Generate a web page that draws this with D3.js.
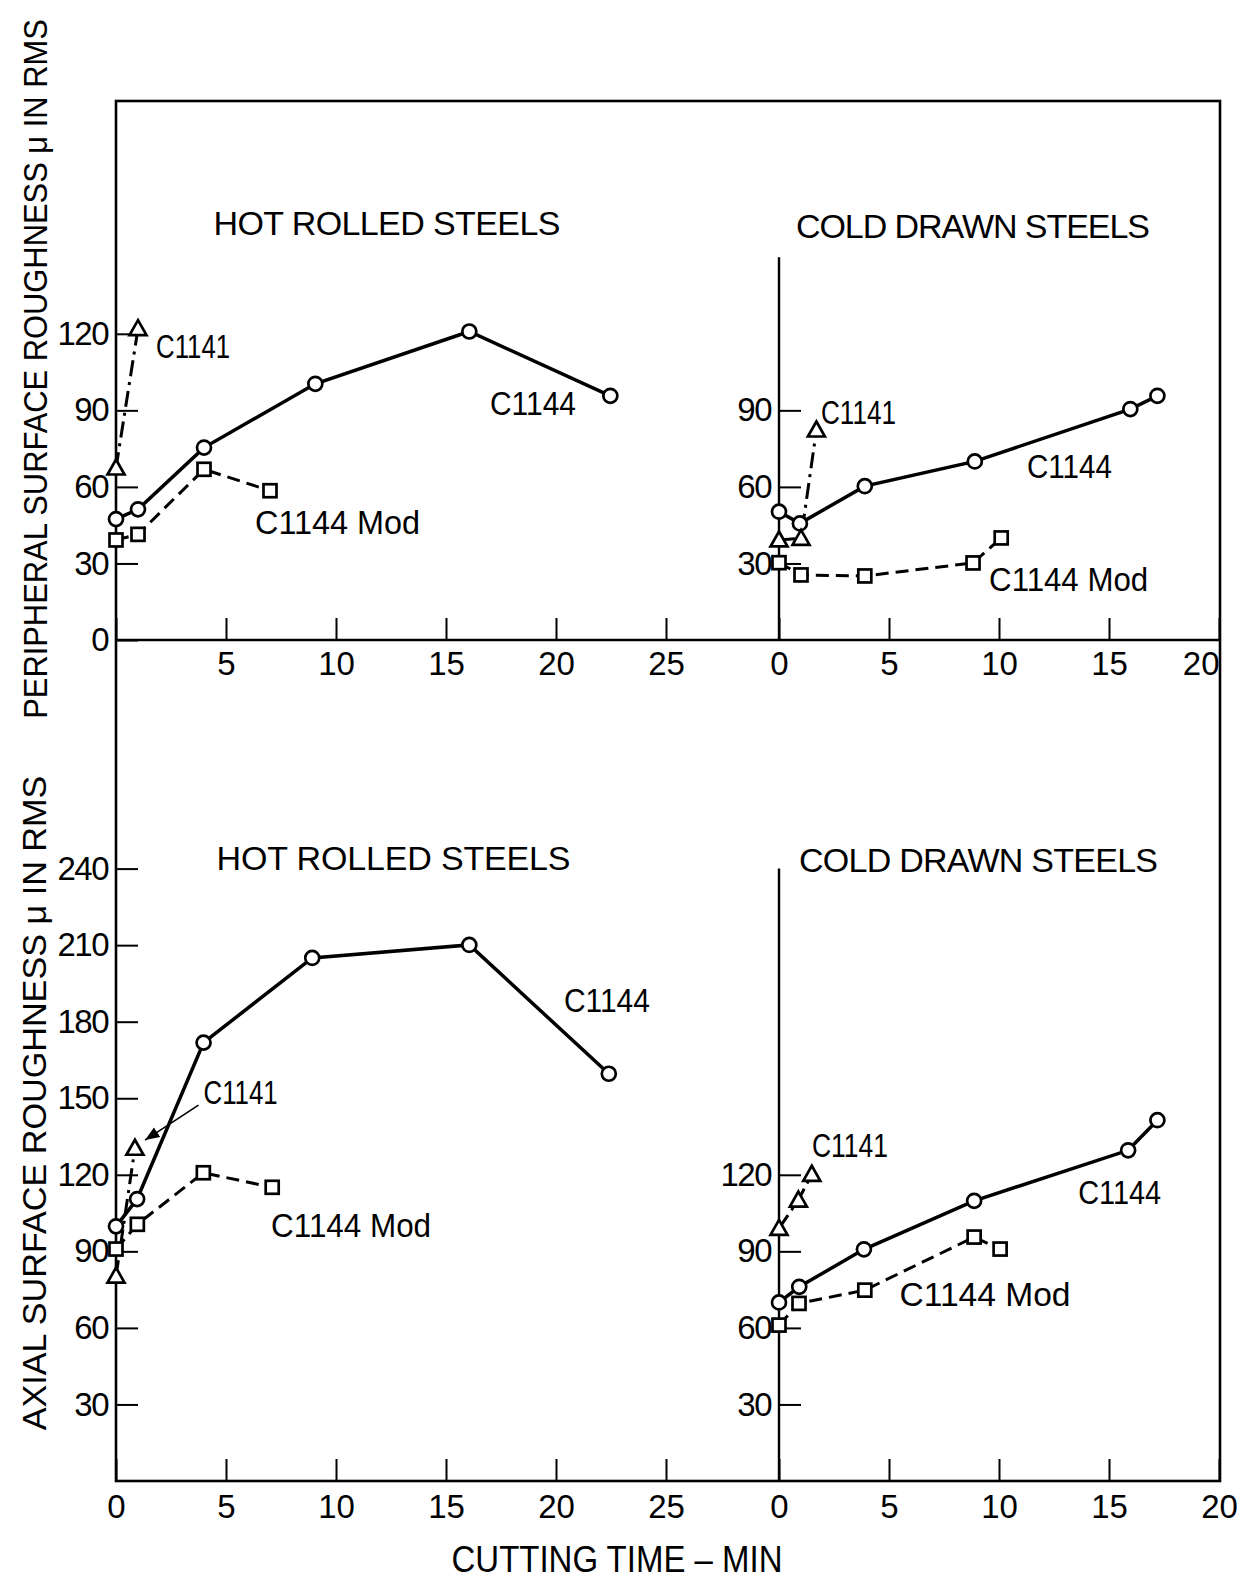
<!DOCTYPE html>
<html>
<head>
<meta charset="utf-8">
<script src="https://cdn.jsdelivr.net/npm/d3@7"></script>
<style>
  body { margin: 0; background: #fff; }
  svg text { font-family: "Liberation Sans", Arial, sans-serif; fill: #000; }
</style>
</head>
<body>
<svg width="1245" height="1579"></svg>
<script>
// ---- data (cutting time in min, roughness in micro-inch RMS) ----
const hotXTicks = [0, 5, 10, 15, 20, 25];
const coldXTicks = [0, 5, 10, 15, 20];
const periHotYTicks = [0, 30, 60, 90, 120];
const periColdYTicks = [30, 60, 90];
const axialHotYTicks = [30, 60, 90, 120, 150, 180, 210, 240];
const axialColdYTicks = [30, 60, 90, 120];

const periHotC1144 = [[0, 47.4], [1, 51.2], [4, 75.4], [9.06, 100.4], [16.06, 120.9], [22.47, 95.7]];
const periHotMod = [[0, 39.2], [1, 41.4], [4, 66.9], [7, 58.5]];
const periHotC1141 = [[0, 67.4], [1, 122]];

const periColdC1144 = [[0, 50.3], [0.95, 45.7], [3.9, 60.3], [8.9, 70], [15.97, 90.5], [17.2, 95.7]];
const periColdMod = [[0, 30.3], [1, 25.5], [3.9, 25.1], [8.82, 30.2], [10.1, 40]];
const periColdC1141 = [[0, 39.2], [1, 39.8], [1.7, 82.3]];

const axialHotC1144 = [[0, 99.8], [0.96, 110.5], [3.98, 171.8], [8.92, 205], [16.06, 210.1], [22.4, 159.6]];
const axialHotMod = [[0, 90.9], [0.97, 100.6], [3.97, 120.8], [7.1, 115.1]];
const axialHotC1141 = [[0, 80.3], [0.86, 130.4]];

const axialColdC1144 = [[0, 70], [0.92, 76.1], [3.86, 90.8], [8.87, 109.8], [15.87, 129.6], [17.2, 141.4]];
const axialColdMod = [[0, 61.1], [0.91, 69.6], [3.9, 74.8], [8.87, 95.6], [10.05, 90.9]];
const axialColdC1141 = [[0, 99], [0.88, 110.1], [1.49, 120.2]];

// ---- layout ----
const svg = d3.select("svg");
const xHot = d3.scaleLinear().domain([0, 25]).range([116, 666]);
const xCold = d3.scaleLinear().domain([0, 20]).range([779, 1219]);
const yPeri = d3.scaleLinear().domain([0, 120]).range([640, 333.8]);
const yAxial = d3.scaleLinear().domain([0, 240]).range([1481, 868.6]);

const frame = {left: 116, right: 1220, top: 101, mid: 640, bottom: 1481};

const panels = [
  {x: xHot, y: yPeri, series: [periHotC1144, periHotMod, periHotC1141],
   xTicks: hotXTicks, xLabels: hotXTicks.slice(1), yTicks: periHotYTicks, labelPad: 12},
  {x: xCold, y: yPeri, series: [periColdC1144, periColdMod, periColdC1141],
   xTicks: coldXTicks, xLabels: coldXTicks, yTicks: periColdYTicks, labelPad: 12, axisTop: 150},
  {x: xHot, y: yAxial, series: [axialHotC1144, axialHotMod, axialHotC1141],
   xTicks: hotXTicks, xLabels: hotXTicks, yTicks: axialHotYTicks, labelPad: 14},
  {x: xCold, y: yAxial, series: [axialColdC1144, axialColdMod, axialColdC1141],
   xTicks: coldXTicks, xLabels: coldXTicks, yTicks: axialColdYTicks, labelPad: 14, axisTop: 240}
];

const styles = [
  {dash: null, marker: "circle"},
  {dash: "13,7", marker: "square"},
  {dash: "16,6,3,6", marker: "triangle"}
];

// outer frame and the shared middle axis
const g = svg.append("g").attr("stroke", "#000").attr("fill", "none");
g.append("rect")
  .attr("x", frame.left).attr("y", frame.top)
  .attr("width", frame.right - frame.left).attr("height", frame.bottom - frame.top)
  .attr("stroke-width", 2.6);
g.append("line")
  .attr("x1", frame.left).attr("x2", frame.right)
  .attr("y1", frame.mid).attr("y2", frame.mid)
  .attr("stroke-width", 2.6);

panels.forEach((p, i) => {
  const pg = svg.append("g");
  const baseY = p.y.range()[0];

  // cold panels have their own vertical axis line
  if (p.axisTop) {
    pg.append("line")
      .attr("x1", p.x(0)).attr("x2", p.x(0))
      .attr("y1", baseY).attr("y2", p.y(p.axisTop))
      .attr("stroke", "#000").attr("stroke-width", 2.4);
  }

  // x ticks (pointing up) and labels
  const xg = pg.append("g").attr("transform", `translate(0,${baseY})`)
    .call(d3.axisBottom(p.x).tickValues(p.xTicks)
      .tickSizeInner(-22).tickSizeOuter(0).tickPadding(p.labelPad)
      .tickFormat(d => p.xLabels.includes(d) ? d : ""));
  xg.select(".domain").remove();
  xg.selectAll(".tick line").attr("stroke", "#000").attr("stroke-width", 2);
  xg.selectAll(".tick text").attr("font-size", 33).attr("font-family", null);
  if (i === 1) xg.selectAll(".tick text").filter(d => d === 20).attr("text-anchor", "end").attr("x", 0);

  // y ticks (pointing right) and labels
  const yg = pg.append("g").attr("transform", `translate(${p.x(0)},0)`)
    .call(d3.axisLeft(p.y).tickValues(p.yTicks)
      .tickSizeInner(-22).tickSizeOuter(0).tickPadding(8));
  yg.select(".domain").remove();
  yg.selectAll(".tick line").attr("stroke", "#000").attr("stroke-width", 2);
  yg.selectAll(".tick text").attr("font-size", 33).attr("font-family", null)
    .attr("letter-spacing", -1.5);

  // series lines then markers
  p.series.forEach((data, si) => {
    const st = styles[si];
    pg.append("path")
      .datum(data)
      .attr("d", d3.line().x(d => p.x(d[0])).y(d => p.y(d[1])))
      .attr("fill", "none").attr("stroke", "#000")
      .attr("stroke-width", si === 0 ? 3.5 : 3)
      .attr("stroke-dasharray", st.dash);
  });
  p.series.forEach((data, si) => {
    const st = styles[si];
    const m = pg.append("g").selectAll("g").data(data).join("g")
      .attr("transform", d => `translate(${p.x(d[0])},${p.y(d[1])})`);
    if (st.marker === "circle") {
      m.append("circle").attr("r", 7);
    } else if (st.marker === "square") {
      m.append("rect").attr("x", -6.5).attr("y", -6.5).attr("width", 13).attr("height", 13);
    } else {
      m.append("path").attr("d", "M0,-8.5L8.5,6.5L-8.5,6.5Z");
    }
    m.selectAll("*").attr("fill", "#fff").attr("stroke", "#000").attr("stroke-width", 2.7);
  });
});

// ---- annotations (positions in data units of each panel) ----
const seriesLabels = [
  {p: 0, text: "C1141", x: 1.82, y: 115.4, w: 74},
  {p: 0, text: "C1144", x: 17.0, y: 92.9, w: 86},
  {p: 0, text: "C1144 Mod", x: 6.32, y: 46.2, w: 165},
  {p: 1, text: "C1141", x: 1.91, y: 89.3, w: 75},
  {p: 1, text: "C1144", x: 11.27, y: 68.2, w: 85},
  {p: 1, text: "C1144 Mod", x: 9.55, y: 23.9, w: 159},
  {p: 2, text: "C1141", x: 3.98, y: 152.4, w: 74},
  {p: 2, text: "C1144", x: 20.36, y: 188.5, w: 86},
  {p: 2, text: "C1144 Mod", x: 7.05, y: 100.3, w: 160},
  {p: 3, text: "C1141", x: 1.5, y: 131.7, w: 76},
  {p: 3, text: "C1144", x: 13.6, y: 113.2, w: 83},
  {p: 3, text: "C1144 Mod", x: 5.48, y: 73.3, w: 171}
];
const panelTitles = [
  {p: 0, text: "HOT  ROLLED  STEELS", x: 4.43, y: 163.6, w: 347},
  {p: 1, text: "COLD  DRAWN  STEELS", x: 0.77, y: 162.4, w: 354},
  {p: 2, text: "HOT  ROLLED  STEELS", x: 4.57, y: 244.1, w: 354},
  {p: 3, text: "COLD  DRAWN  STEELS", x: 0.91, y: 243.3, w: 359}
];

svg.append("g").selectAll("text").data(seriesLabels).join("text")
  .attr("x", d => panels[d.p].x(d.x))
  .attr("y", d => panels[d.p].y(d.y))
  .attr("dy", "0.36em")
  .attr("font-size", 34)
  .attr("textLength", d => d.w)
  .attr("lengthAdjust", "spacingAndGlyphs")
  .text(d => d.text);

svg.append("g").selectAll("text").data(panelTitles).join("text")
  .attr("x", d => panels[d.p].x(d.x))
  .attr("y", d => panels[d.p].y(d.y))
  .attr("dy", "0.36em")
  .attr("font-size", 34)
  .attr("textLength", d => d.w)
  .attr("lengthAdjust", "spacing")
  .text(d => d.text);

// leader arrow to the axial hot-rolled C1141 point
svg.append("defs").append("marker")
  .attr("id", "arrow").attr("viewBox", "0 0 10 10")
  .attr("refX", 10).attr("refY", 5)
  .attr("markerWidth", 9).attr("markerHeight", 9)
  .attr("orient", "auto")
  .append("path").attr("d", "M0,1L10,5L0,9Z").attr("fill", "#000");
const leader = {p: 2, from: [3.75, 147.3], to: [1.32, 133.6]};
svg.append("line")
  .attr("x1", panels[leader.p].x(leader.from[0])).attr("y1", panels[leader.p].y(leader.from[1]))
  .attr("x2", panels[leader.p].x(leader.to[0])).attr("y2", panels[leader.p].y(leader.to[1]))
  .attr("stroke", "#000").attr("stroke-width", 1.6)
  .attr("marker-end", "url(#arrow)");

// axis titles: squeeze horizontally with a scale so the box stays honest
function squeezedText(x, y, rotate, size, len, str) {
  const t = svg.append("text")
    .attr("text-anchor", "middle").attr("font-size", size).text(str);
  const k = len / t.node().getComputedTextLength();
  t.attr("transform", `translate(${x},${y}) rotate(${rotate}) scale(${k},1)`);
  return t;
}
squeezedText(47, 369, -90, 34, 700, "PERIPHERAL SURFACE ROUGHNESS μ IN RMS");
squeezedText(46, 1103, -90, 34, 655, "AXIAL SURFACE ROUGHNESS μ IN RMS");
squeezedText(617, 1572, 0, 36, 331, "CUTTING TIME – MIN");
</script>
</body>
</html>
